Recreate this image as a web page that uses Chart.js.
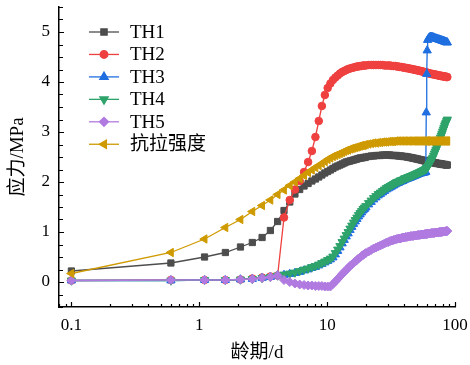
<!DOCTYPE html>
<html>
<head>
<meta charset="utf-8">
<script src="https://cdn.jsdelivr.net/npm/chart.js@4.4.1/dist/chart.umd.min.js"></script>
<style>
  html, body { margin: 0; padding: 0; background: #fff; }
  #wrap { width: 470px; height: 365px; }
</style>
</head>
<body>
<div id="wrap"><canvas id="chart" width="470" height="365"></canvas></div>
<script>
// 龄期 (d)
const ages = [
  0.1, 0.6, 1.1, 1.6, 2.1, 2.6, 3.1, 3.6, 4.1, 4.6,
  5.1, 5.6, 6.1, 6.6, 7.1, 7.6, 8.1, 8.6, 9.1, 9.6,
  10.1, 10.6, 11.1, 11.6, 12.1, 12.6, 13.1, 13.6, 14.1, 14.6,
  15.1, 15.6, 16.1, 16.6, 17.1, 17.6, 18.1, 18.6, 19.1, 19.6,
  20.1,
  21.1, 22.1, 23.1, 24.1, 25.1, 26.1, 27.1, 28.1, 29.1, 30.1,
  31.1, 32.1, 33.1, 34.1, 35.1, 36.1, 37.1, 38.1, 39.1, 40.1,
  41.1, 42.1, 43.1, 44.1, 45.1, 46.1, 47.1, 48.1, 49.1, 50.1,
  51.1, 52.1, 53.1, 54.1, 55.1, 56.1, 57.1, 58.1, 59.1,
  59.6, 60.1, 60.6,
  61.1, 62.1, 63.1, 64.1, 65.1, 66.1, 67.1, 68.1, 69.1, 70.1,
  71.1, 72.1, 73.1, 74.1, 75.1, 76.1, 77.1, 78.1, 79.1, 80.1,
  81.1, 82.1, 83.1, 84.1, 85.1, 86.1, 87.1
];

// 应力 (MPa)
const th1 = [
  0.22, 0.38, 0.50, 0.59, 0.70, 0.79, 0.89, 1.03, 1.21, 1.43,
  1.60, 1.76, 1.85, 1.92, 1.97, 2.02, 2.06, 2.10, 2.14, 2.18,
  2.21, 2.24, 2.27, 2.30, 2.32, 2.34, 2.36, 2.38, 2.40, 2.41,
  2.42, 2.43, 2.44, 2.45, 2.46, 2.47, 2.48, 2.48, 2.49, 2.49,
  2.50,
  2.51, 2.52, 2.52, 2.53, 2.53, 2.53, 2.54, 2.54, 2.54, 2.54,
  2.54, 2.53, 2.53, 2.53, 2.53, 2.52, 2.52, 2.52, 2.51, 2.51,
  2.51, 2.50, 2.50, 2.49, 2.49, 2.48, 2.48, 2.47, 2.47, 2.46,
  2.46, 2.45, 2.45, 2.44, 2.44, 2.43, 2.43, 2.42, 2.42,
  2.42, 2.41, 2.41,
  2.41, 2.41, 2.40, 2.40, 2.40, 2.39, 2.39, 2.39, 2.38, 2.38,
  2.38, 2.37, 2.37, 2.37, 2.37, 2.36, 2.36, 2.36, 2.36, 2.35,
  2.35, 2.35, 2.35, 2.35, 2.34, 2.34, 2.34
];
const th2 = [
  0.03, 0.04, 0.04, 0.04, 0.05, 0.07, 0.09, 0.11, 0.13, 1.29,
  1.64, 1.85, 2.02, 2.20, 2.40, 2.62, 2.90, 3.22, 3.52, 3.74,
  3.88, 3.97, 4.04, 4.09, 4.13, 4.17, 4.20, 4.22, 4.24, 4.26,
  4.27, 4.28, 4.29, 4.30, 4.31, 4.31, 4.32, 4.32, 4.33, 4.33,
  4.33,
  4.34, 4.34, 4.34, 4.34, 4.34, 4.34, 4.34, 4.33, 4.33, 4.33,
  4.33, 4.32, 4.32, 4.32, 4.31, 4.31, 4.30, 4.30, 4.29, 4.29,
  4.28, 4.28, 4.27, 4.27, 4.26, 4.26, 4.25, 4.25, 4.24, 4.24,
  4.23, 4.23, 4.22, 4.22, 4.21, 4.21, 4.20, 4.20, 4.19,
  4.19, 4.19, 4.18,
  4.18, 4.18, 4.17, 4.17, 4.16, 4.16, 4.16, 4.15, 4.15, 4.15,
  4.14, 4.14, 4.14, 4.13, 4.13, 4.13, 4.12, 4.12, 4.12, 4.12,
  4.11, 4.11, 4.11, 4.11, 4.10, 4.10, 4.10
];
const th3 = [
  0.03, 0.03, 0.04, 0.04, 0.05, 0.06, 0.08, 0.10, 0.13, 0.14,
  0.16, 0.18, 0.20, 0.23, 0.25, 0.28, 0.30, 0.33, 0.36, 0.39,
  0.42, 0.45, 0.49, 0.55, 0.62, 0.69, 0.77, 0.84, 0.91, 0.97,
  1.04, 1.10, 1.16, 1.21, 1.26, 1.31, 1.35, 1.39, 1.43, 1.46,
  1.49,
  1.55, 1.60, 1.65, 1.69, 1.73, 1.76, 1.79, 1.82, 1.85, 1.87,
  1.89, 1.91, 1.93, 1.95, 1.97, 1.98, 2.00, 2.01, 2.02, 2.04,
  2.05, 2.06, 2.07, 2.08, 2.09, 2.10, 2.11, 2.12, 2.13, 2.14,
  2.15, 2.16, 2.17, 2.17, 2.18, 2.18, 2.19, 2.19, 2.20,
  3.39, 4.16, 4.63,
  4.84, 4.87, 4.89, 4.90, 4.90, 4.90, 4.89, 4.89, 4.88, 4.87,
  4.87, 4.86, 4.86, 4.85, 4.85, 4.84, 4.84, 4.83, 4.83, 4.82,
  4.82, 4.81, 4.81, 4.80, 4.80, 4.79, 4.79
];
const th4 = [
  0.03, 0.03, 0.04, 0.04, 0.05, 0.06, 0.08, 0.10, 0.13, 0.15,
  0.17, 0.19, 0.22, 0.25, 0.27, 0.30, 0.32, 0.35, 0.38, 0.41,
  0.44, 0.47, 0.51, 0.58, 0.65, 0.72, 0.80, 0.87, 0.94, 1.00,
  1.07, 1.13, 1.19, 1.24, 1.29, 1.34, 1.38, 1.42, 1.46, 1.49,
  1.52,
  1.58, 1.63, 1.68, 1.72, 1.76, 1.79, 1.82, 1.85, 1.88, 1.90,
  1.92, 1.94, 1.96, 1.98, 2.00, 2.01, 2.03, 2.04, 2.05, 2.07,
  2.08, 2.09, 2.10, 2.11, 2.12, 2.13, 2.14, 2.15, 2.16, 2.17,
  2.18, 2.19, 2.20, 2.21, 2.22, 2.23, 2.24, 2.25, 2.26,
  2.27, 2.28, 2.29,
  2.30, 2.33, 2.36, 2.39, 2.42, 2.46, 2.49, 2.53, 2.57, 2.61,
  2.65, 2.69, 2.73, 2.77, 2.81, 2.85, 2.89, 2.93, 2.97, 3.01,
  3.05, 3.09, 3.13, 3.16, 3.19, 3.22, 3.25
];
const th5 = [
  0.03, 0.04, 0.04, 0.04, 0.05, 0.06, 0.08, 0.10, 0.13, 0.04,
  0.00, -0.03, -0.05, -0.06, -0.07, -0.07, -0.08, -0.08, -0.08, -0.09,
  -0.09, -0.09, -0.04, 0.01, 0.06, 0.11, 0.16, 0.20, 0.24, 0.28,
  0.32, 0.35, 0.38, 0.41, 0.44, 0.47, 0.49, 0.52, 0.54, 0.56,
  0.58,
  0.61, 0.64, 0.67, 0.69, 0.71, 0.73, 0.75, 0.77, 0.79, 0.80,
  0.82, 0.83, 0.84, 0.85, 0.86, 0.87, 0.87, 0.88, 0.89, 0.89,
  0.90, 0.90, 0.91, 0.91, 0.92, 0.92, 0.92, 0.93, 0.93, 0.93,
  0.94, 0.94, 0.94, 0.95, 0.95, 0.95, 0.95, 0.96, 0.96,
  0.96, 0.96, 0.96,
  0.97, 0.97, 0.97, 0.97, 0.98, 0.98, 0.98, 0.98, 0.98, 0.99,
  0.99, 0.99, 0.99, 0.99, 1.00, 1.00, 1.00, 1.00, 1.00, 1.01,
  1.01, 1.01, 1.01, 1.01, 1.02, 1.02, 1.02
];
// 抗拉强度
const tensile = [
  0.17, 0.59, 0.86, 1.09, 1.25, 1.41, 1.53, 1.64, 1.75, 1.84,
  1.93, 2.00, 2.07, 2.13, 2.19, 2.24, 2.29, 2.33, 2.37, 2.41,
  2.45, 2.48, 2.51, 2.53, 2.55, 2.57, 2.59, 2.61, 2.63, 2.64,
  2.66, 2.67, 2.68, 2.69, 2.70, 2.71, 2.72, 2.73, 2.73, 2.74,
  2.75,
  2.76, 2.77, 2.78, 2.78, 2.79, 2.79, 2.80, 2.80, 2.80, 2.81,
  2.81, 2.81, 2.81, 2.82, 2.82, 2.82, 2.82, 2.82, 2.82, 2.82,
  2.82, 2.82, 2.82, 2.82, 2.82, 2.82, 2.82, 2.82, 2.82, 2.82,
  2.82, 2.82, 2.82, 2.82, 2.82, 2.82, 2.82, 2.82, 2.82,
  2.82, 2.82, 2.82,
  2.82, 2.82, 2.82, 2.82, 2.82, 2.82, 2.82, 2.82, 2.82, 2.82,
  2.82, 2.82, 2.82, 2.82, 2.82, 2.82, 2.82, 2.82, 2.82, 2.82,
  2.82, 2.82, 2.82, 2.82, 2.82, 2.82, 2.82
];

const seriesNames = ['TH1', 'TH2', 'TH3', 'TH4', 'TH5', '抗拉强度'];
const xTickLabels = [0.1, 1, 10, 100];
const yTickLabels = [0, 1, 2, 3, 4, 5];

const serif = '"Liberation Serif", "Times New Roman", "Noto Sans CJK SC", serif';

// 每条曲线的样式
const styles = [
  { color: '#4d4d4d', pointStyle: 'rect', rotation: 0, radius: 4.4 },
  { color: '#ef4040', pointStyle: 'circle', rotation: 0, radius: 3.8 },
  { color: '#1f6fe0', pointStyle: 'triangle', rotation: 0, radius: 4.8 },
  { color: '#2ea36a', pointStyle: 'triangle', rotation: 180, radius: 4.8 },
  { color: '#b07ae0', pointStyle: 'rectRot', rotation: 0, radius: 4.5 },
  { color: '#cf9a00', pointStyle: 'triangle', rotation: 270, radius: 4.8 }
];

const values = [th1, th2, th3, th4, th5, tensile];

const datasets = values.map((vals, i) => ({
  label: seriesNames[i],
  data: ages.map((a, k) => ({ x: a, y: vals[k] })),
  borderColor: styles[i].color,
  backgroundColor: styles[i].color,
  borderWidth: 1.3,
  pointStyle: styles[i].pointStyle,
  pointRotation: styles[i].rotation,
  pointRadius: styles[i].radius,
  pointBorderWidth: 1,
  pointBorderColor: styles[i].color,
  pointBackgroundColor: styles[i].color,
  tension: 0,
  fill: false,
  order: values.length - i
}));

// 刻度线（向内）
const tickPlugin = {
  id: 'innerTicks',
  afterDraw(chart) {
    const { ctx, chartArea: a, scales: { x, y } } = chart;
    ctx.save();
    ctx.strokeStyle = '#000';
    ctx.lineWidth = 1.2;
    ctx.beginPath();
    for (let d = 0.01; d < 1000; d *= 10) {
      for (let m = 1; m <= 9; m++) {
        const v = m * d;
        if (v < x.min * 0.999 || v > x.max * 1.001) continue;
        const px = Math.round(x.getPixelForValue(v)) + 0.5;
        const len = m === 1 ? 5 : 3;
        ctx.moveTo(px, a.bottom);
        ctx.lineTo(px, a.bottom - len);
      }
    }
    for (let v = -0.5; v <= 5.5001; v += 0.25) {
      const py = Math.round(y.getPixelForValue(v)) + 0.5;
      const major = Math.abs(v - Math.round(v)) < 0.01;
      ctx.moveTo(a.left, py);
      ctx.lineTo(a.left + (major ? 5 : 4), py);
    }
    ctx.stroke();
    ctx.restore();
  }
};

// 图例：线段 + 标记
const legendPlugin = {
  id: 'lineLegend',
  afterDraw(chart) {
    const ctx = chart.ctx;
    ctx.save();
    ctx.font = '19px ' + serif;
    ctx.textBaseline = 'middle';
    ctx.textAlign = 'left';
    seriesNames.forEach((name, i) => {
      const yy = 32 + i * 22.45;
      const s = styles[i];
      ctx.strokeStyle = s.color;
      ctx.fillStyle = s.color;
      ctx.lineWidth = 1.3;
      ctx.beginPath();
      ctx.moveTo(89, yy);
      ctx.lineTo(119, yy);
      ctx.stroke();
      Chart.helpers.drawPoint(ctx, {
        pointStyle: s.pointStyle, rotation: s.rotation,
        radius: s.radius, borderWidth: 1
      }, 104, yy);
      ctx.fillStyle = '#000';
      ctx.fillText(name, 130, yy + 1);
    });
    ctx.restore();
  }
};

new Chart(document.getElementById('chart').getContext('2d'), {
  type: 'line',
  data: { datasets: datasets },
  plugins: [tickPlugin, legendPlugin],
  options: {
    responsive: false,
    animation: false,
    layout: { padding: { top: 7, right: 15, left: 0, bottom: 0 } },
    plugins: { legend: { display: false }, tooltip: { enabled: false } },
    scales: {
      x: {
        type: 'logarithmic',
        min: 0.08,
        max: 100,
        grid: { display: false, drawTicks: false },
        border: { display: true, color: '#000', width: 1.5 },
        afterBuildTicks(scale) {
          scale.ticks = xTickLabels.map(v => ({ value: v }));
        },
        afterFit(scale) {
          scale.height = 58;
          scale.paddingLeft = 0; scale.paddingRight = 0;
        },
        ticks: {
          autoSkip: false,
          maxRotation: 0,
          padding: 8,
          color: '#000',
          font: { family: serif, size: 17 },
          callback: v => String(v)
        },
        title: {
          display: true,
          text: '龄期/d',
          color: '#000',
          font: { family: serif, size: 19 },
          padding: { top: 0, bottom: 1 }
        }
      },
      y: {
        type: 'linear',
        min: -0.5,
        max: 5.5,
        grid: { display: false, drawTicks: false },
        border: { display: true, color: '#000', width: 1.5 },
        afterBuildTicks(scale) {
          scale.ticks = yTickLabels.map(v => ({ value: v }));
        },
        afterFit(scale) {
          scale.width = 59;
          scale.paddingTop = 0; scale.paddingBottom = 0;
        },
        ticks: {
          padding: 9,
          color: '#000',
          font: { family: serif, size: 17 },
          callback: v => String(v)
        },
        title: {
          display: true,
          text: '应力/MPa',
          color: '#000',
          font: { family: serif, size: 19 },
          padding: { top: 7, bottom: 0 }
        }
      }
    }
  }
});
</script>
</body>
</html>
